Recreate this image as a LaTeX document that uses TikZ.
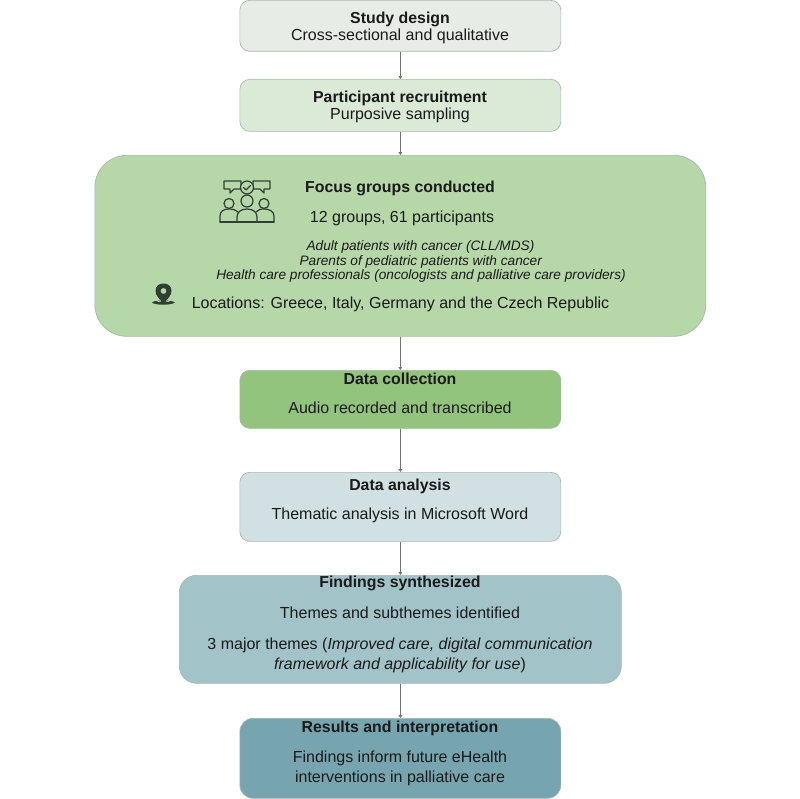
\documentclass[tikz,border=0pt]{standalone}
\usepackage{fontspec}
\setmainfont{Liberation Sans}
\usetikzlibrary{arrows.meta}
\definecolor{boxA}{HTML}{E8ECE6}
\definecolor{boxB}{HTML}{DBEAD6}
\definecolor{boxC}{HTML}{B6D7A8}
\definecolor{boxD}{HTML}{93C47D}
\definecolor{boxE}{HTML}{D0E0E3}
\definecolor{boxF}{HTML}{A2C4C9}
\definecolor{boxG}{HTML}{76A5AF}
\definecolor{edgeC}{HTML}{A9B5AB}
\definecolor{inkC}{HTML}{1A1A1A}
\definecolor{iconC}{HTML}{2F3F33}
\tikzset{
 flowbox/.style={draw=edgeC,line width=0.5pt,rounded corners=7.5pt,inner sep=0pt,anchor=north west},
 link/.style={draw=black!55,line width=0.9pt,-{Triangle[length=2.2pt,width=2.8pt]}},
 tx/.style={text=inkC,font=\fontsize{12}{14}\selectfont,inner sep=0pt,align=center},
 txb/.style={tx,font=\fontsize{11.9}{14}\selectfont\bfseries},
 txi/.style={tx,font=\fontsize{10.25}{12}\selectfont\itshape},
 ic/.style={draw=iconC,line width=0.9pt,line join=round,line cap=round}
}
\newcommand{\bx}[6]{\node[flowbox,fill=#2,minimum width=#5*0.75pt,minimum height=#6*0.75pt] (#1) at (#3,#4) {};}
\begin{document}
\begin{tikzpicture}[x=0.75pt,y=-0.75pt]
\useasboundingbox (0,0) rectangle (800,799);
\bx{a}{boxA}{239.5}{0}{321}{51}
\bx{b}{boxB}{239.5}{79}{321}{52}
\node[flowbox,fill=boxC,rounded corners=24pt,minimum width=611*0.75pt,minimum height=181*0.75pt] (c) at (94.5,155) {};
\bx{d}{boxD}{239.5}{370}{321}{58}
\bx{e}{boxE}{239.5}{472}{321}{69}
\node[flowbox,fill=boxF,rounded corners=13pt,minimum width=442*0.75pt,minimum height=108*0.75pt] (f) at (179,575) {};
\node[flowbox,fill=boxG,rounded corners=10pt,minimum width=321*0.75pt,minimum height=80*0.75pt] (g) at (239.5,718) {};
\foreach \s/\t in {a/b,b/c,c/d,d/e,e/f,f/g}{\draw[link] (\s.south) -- (\t.north);}
\node[txb] (a1) at (400,19) {Study design};
\node[tx] (a2) at (400,36) {Cross-sectional and qualitative};
\node[txb] (b1) at (400,98) {Participant recruitment};
\node[tx] (b2) at (400,115) {Purposive sampling};
\node[txb] (c1) at (400,188) {Focus groups conducted};
\node[tx] (c2) at (402,218.5) {12 groups, 61 participants};
\node[txi] (c3) at (420.5,247) {Adult patients with cancer (CLL/MDS)};
\node[txi] (c4) at (420.7,261.5) {Parents of pediatric patients with cancer};
\node[txi] (c5) at (421,276) {Health care professionals (oncologists and palliative care providers)};
\node[tx] (c6) at (400.5,304) {Locations: Greece, Italy, Germany and the Czech Republic};
\node[txb] (d1) at (400,379) {Data collection};
\node[tx] (d2) at (400,408) {Audio recorded and transcribed};
\node[txb] (e1) at (400,486) {Data analysis};
\node[tx] (e2) at (400,515) {Thematic analysis in Microsoft Word};
\node[txb] (f1) at (400,583) {Findings synthesized};
\node[tx] (f2) at (400,613) {Themes and subthemes identified};
\node[tx] (f3) at (400,645) {3 major themes (\textit{Improved care, digital communication}};
\node[tx] (f4) at (400,665) {\textit{framework and applicability for use})};
\node[txb] (g1) at (400,728) {Results and interpretation};
\node[tx] (g2) at (400,758) {Findings inform future eHealth};
\node[tx] (g3) at (400,778) {interventions in palliative care};
% people icon
\draw[ic] (224,181) -- (241,181) -- (241,189) -- (234,189) -- (230,193) -- (230,189) -- (224,189) -- cycle;
\draw[ic] (270,181) -- (253,181) -- (253,189) -- (260,189) -- (264,193) -- (264,189) -- (270,189) -- cycle;
\draw[ic,fill=boxC] (247,187.5) circle (6.5);
\draw[ic] (243.5,187.5) -- (246,190) -- (250.5,185.5);
\draw[ic] (229,203.5) circle (5);
\draw[ic] (247,201) circle (6);
\draw[ic] (264,203.5) circle (5);
\draw[ic] (220,222) -- (220,216) .. controls (220,211) and (224,209) .. (229,209) .. controls (233,209) and (236,210) .. (238,212);
\draw[ic] (237,222) -- (237,217) .. controls (237,212) and (241,209) .. (247,209) .. controls (253,209) and (257,212) .. (257,217) -- (257,222);
\draw[ic] (274,222) -- (274,216) .. controls (274,211) and (269,209) .. (264,209) .. controls (260,209) and (258,210) .. (256,212);
\draw[ic] (220,222) -- (274,222);
% pin icon
\fill[iconC] (152,302.5) .. controls (155,299.5) and (171,299.5) .. (175,302.5) .. controls (171,305.5) and (155,305.5) .. (152,302.5) -- cycle;
\fill[iconC,even odd rule] (163.5,304) .. controls (160,299) and (155.5,296) .. (155.5,291) .. controls (155.5,286) and (159,283.5) .. (163.5,283.5) .. controls (168,283.5) and (171.5,286) .. (171.5,291) .. controls (171.5,296) and (167,299) .. (163.5,304) -- cycle (163.5,291) circle (3);
\draw[boxC,line width=0.8pt] (155,299) .. controls (158,301.5) and (160,302) .. (161,301);
\draw[boxC,line width=0.8pt] (172,299) .. controls (169,301.5) and (167,302) .. (166,301);
\end{tikzpicture}
\end{document}
